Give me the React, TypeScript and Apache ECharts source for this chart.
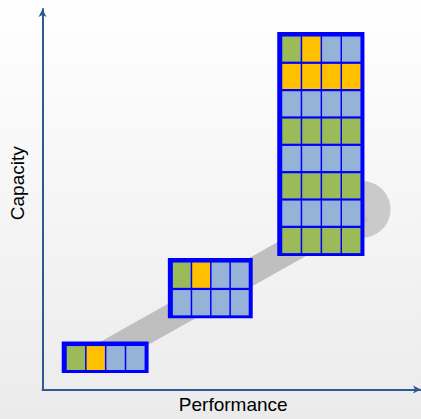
import React, { useEffect, useRef } from "react";
import * as echarts from "echarts";

// Block extents in axis units (0..100 on both axes)
const blockLeft = [5.08, 33.12, 62.02];
const blockRight = [28.03, 55.54, 85.06];
const blockBottom = [4.34, 18.7, 35.06];
const blockTop = [12.6, 34.55, 93.95];
// Cell colour codes, rows from top to bottom
const blockCells = [
  ["GYBB"],
  ["GYBB", "BBBB"],
  ["GYBB", "YYYY", "BBBB", "GGGG", "BBBB", "GGGG", "BBBB", "GGGG"],
];
// Grey growth path
const pathPoints = [
  [12.91, 7.27],
  [84.46, 47.35],
];
const pathEnd = [[84.46, 47.35]];

const cellColors: Record<string, string> = {
  G: "#9BBB59",
  Y: "#FFC000",
  B: "#95B3D7",
};

export default function App() {
  const ref = useRef<HTMLDivElement>(null);
  useEffect(() => {
    if (!ref.current) return;
    const chart = echarts.init(ref.current, null, { renderer: "svg" });
    const axisColor = "#2E5A93";
    const blockData = blockLeft.map((l, i) => [l, blockBottom[i], blockRight[i], blockTop[i], i]);
    chart.setOption({
      animation: false,
      backgroundColor: {
        type: "linear",
        x: 0,
        y: 0,
        x2: 0,
        y2: 1,
        colorStops: [
          { offset: 0, color: "#ffffff" },
          { offset: 1, color: "#ebebeb" },
        ],
      },
      grid: { left: 40.5, right: -3, top: 9, bottom: 25 },
      xAxis: {
        type: "value",
        min: 0,
        max: 100,
        name: "Performance",
        nameLocation: "middle",
        nameGap: 5.5,
        nameTextStyle: {
          fontFamily: "Liberation Sans",
          fontSize: 19,
          color: "#000",
          padding: [0, 0, 0, 3],
        },
        axisLine: {
          show: true,
          lineStyle: { color: axisColor, width: 2 },
          symbol: ["none", "arrow"],
          symbolSize: [6, 8],
        },
        axisTick: { show: false },
        axisLabel: { show: false },
        splitLine: { show: false },
      },
      yAxis: {
        type: "value",
        min: 0,
        max: 100,
        name: "Capacity",
        nameLocation: "middle",
        nameGap: 15.5,
        nameTextStyle: {
          fontFamily: "Liberation Sans",
          fontSize: 19,
          color: "#000",
          padding: [0, 0, 0, 32],
        },
        axisLine: {
          show: true,
          lineStyle: { color: axisColor, width: 2 },
          symbol: ["none", "arrow"],
          symbolSize: [6, 8],
        },
        axisTick: { show: false },
        axisLabel: { show: false },
        splitLine: { show: false },
      },
      series: [
        {
          type: "line",
          data: pathPoints,
          symbol: "none",
          silent: true,
          lineStyle: { color: "#BFBFBF", width: 26 },
          z: 1,
        },
        {
          type: "scatter",
          data: pathEnd,
          symbol: "circle",
          symbolSize: 56.6,
          silent: true,
          itemStyle: { color: "#BFBFBF" },
          z: 1,
        },
        {
          type: "custom",
          data: blockData,
          clip: false,
          silent: true,
          z: 2,
          renderItem: (params: any, api: any) => {
            const idx = api.value(4);
            const tl = api.coord([api.value(0), api.value(3)]);
            const br = api.coord([api.value(2), api.value(1)]);
            const rows = blockCells[idx];
            const children: any[] = [
              {
                type: "rect",
                shape: { x: tl[0], y: tl[1], width: br[0] - tl[0], height: br[1] - tl[1] },
                style: { fill: "#0000FF" },
              },
            ];
            const padL = 5,
              padR = 4,
              padT = 4.5,
              padB = 3;
            const colGap = 1.5,
              rowGap = 2.2;
            const ix0 = tl[0] + padL;
            const iy0 = tl[1] + padT;
            const iw = br[0] - tl[0] - padL - padR;
            const ih = br[1] - tl[1] - padT - padB;
            const nRows = rows.length;
            const nCols = rows[0].length;
            const cw = (iw - colGap * (nCols - 1)) / nCols;
            const ch = (ih - rowGap * (nRows - 1)) / nRows;
            rows.forEach((row, r) => {
              row.split("").forEach((c, k) => {
                children.push({
                  type: "rect",
                  shape: {
                    x: ix0 + k * (cw + colGap),
                    y: iy0 + r * (ch + rowGap),
                    width: cw,
                    height: ch,
                  },
                  style: { fill: cellColors[c] },
                });
              });
            });
            return { type: "group", children };
          },
        },
      ],
    });
    return () => chart.dispose();
  }, []);
  return <div ref={ref} style={{ width: 421, height: 419, position: "absolute", left: 0, top: 0 }} />;
}
